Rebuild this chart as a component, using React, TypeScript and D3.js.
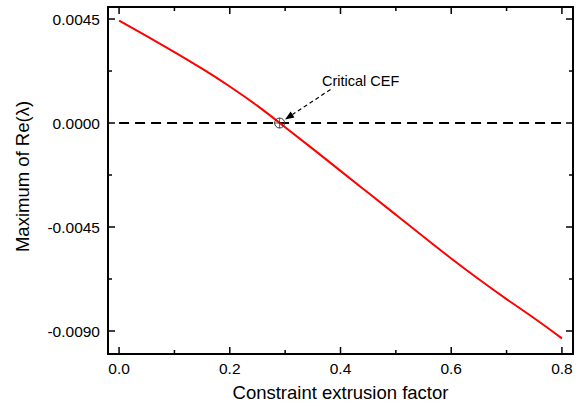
import React from "react";
import * as d3 from "d3";

const xValues = [0, 0.05, 0.1, 0.15, 0.2, 0.25, 0.3, 0.35, 0.4, 0.45, 0.5, 0.55, 0.6, 0.65, 0.7, 0.75, 0.8];
const yValues = [0.00443, 0.00376, 0.00307, 0.00235, 0.00158, 0.00074, -0.00018, -0.00112, -0.00207, -0.00302, -0.00397, -0.00492, -0.00586, -0.00676, -0.00762, -0.00845, -0.00932];
const xTicks = [0, 0.2, 0.4, 0.6, 0.8];
const xMinor = [0.1, 0.3, 0.5, 0.7];
const yTicks = [0.0045, 0, -0.0045, -0.009];
const yMinor = [0.00225, -0.00225, -0.00675];
const criticalX = 0.29;
const xLabel = "Constraint extrusion factor";
const yLabel = "Maximum of Re(λ)";
const annotation = "Critical CEF";

const W = 586, H = 406;
const L = 108, R = 573, T = 7, B = 354;
const FONT = "'Liberation Sans', Arial, Helvetica, sans-serif";

export default function App() {
  const x = d3.scaleLinear().domain([-0.02, 0.82]).range([L, R]);
  const y = d3.scaleLinear().domain([0.00502, -0.009995]).range([T, B]);
  const line = d3.line<number>().x((_, i) => x(xValues[i])).y((d) => y(d)).curve(d3.curveNatural);
  const cx = x(criticalX), cy = y(0);
  const ax0 = 330.5, ay0 = 89.5;
  const ang = Math.atan2(cy - ay0, cx - ax0);
  const tipX = cx - Math.cos(ang) * 6.5, tipY = cy - Math.sin(ang) * 6.5;
  const hl = 9, hw = 3.5;
  const bx = tipX - Math.cos(ang) * hl, by = tipY - Math.sin(ang) * hl;
  const px = -Math.sin(ang), py = Math.cos(ang);
  return (
    <svg width={W} height={H} style={{ position: "absolute", left: 0, top: 0, background: "#fff" }} fontFamily={FONT}>
      <rect width={W} height={H} fill="#fff" />
      <line x1={x(0)} x2={x(0.8)} y1={cy} y2={cy} stroke="#000" strokeWidth={2} strokeDasharray="10,6" />
      <path d={line(yValues) || ""} fill="none" stroke="#ff0000" strokeWidth={2} />
      <circle cx={cx} cy={cy} r={5} fill="none" stroke="#333" strokeWidth={1} />
      <line x1={cx - 5} x2={cx + 5} y1={cy} y2={cy} stroke="#333" strokeWidth={0.8} />
      <line x1={cx} x2={cx} y1={cy - 5} y2={cy + 5} stroke="#333" strokeWidth={0.8} />
      <line x1={ax0} y1={ay0} x2={bx} y2={by} stroke="#000" strokeWidth={1.2} strokeDasharray="4,3" />
      <polygon points={`${tipX},${tipY} ${bx + px * hw},${by + py * hw} ${bx - px * hw},${by - py * hw}`} fill="#000" />
      <text x={322} y={86} fontSize={14.5} fill="#000">{annotation}</text>
      <rect x={L} y={T} width={R - L} height={B - T} fill="none" stroke="#000" strokeWidth={2} />
      {xTicks.map((t) => (
        <g key={"xt" + t}>
          <line x1={x(t)} x2={x(t)} y1={B} y2={B - 7} stroke="#000" strokeWidth={1.5} />
          <line x1={x(t)} x2={x(t)} y1={T} y2={T + 7} stroke="#000" strokeWidth={1.5} />
          <text x={x(t)} y={374} textAnchor="middle" fontSize={15.5}>{t.toFixed(1)}</text>
        </g>
      ))}
      {xMinor.map((t) => (
        <g key={"xm" + t}>
          <line x1={x(t)} x2={x(t)} y1={B} y2={B - 4} stroke="#000" strokeWidth={1.5} />
          <line x1={x(t)} x2={x(t)} y1={T} y2={T + 4} stroke="#000" strokeWidth={1.5} />
        </g>
      ))}
      {yTicks.map((t) => (
        <g key={"yt" + t}>
          <line x1={L} x2={L + 7} y1={y(t)} y2={y(t)} stroke="#000" strokeWidth={1.5} />
          <line x1={R} x2={R - 7} y1={y(t)} y2={y(t)} stroke="#000" strokeWidth={1.5} />
          <text x={100} y={y(t) + 5.5} textAnchor="end" fontSize={15.5}>{t === 0 ? "0.0000" : t.toFixed(4)}</text>
        </g>
      ))}
      {yMinor.map((t) => (
        <g key={"ym" + t}>
          <line x1={L} x2={L + 4} y1={y(t)} y2={y(t)} stroke="#000" strokeWidth={1.5} />
          <line x1={R} x2={R - 4} y1={y(t)} y2={y(t)} stroke="#000" strokeWidth={1.5} />
        </g>
      ))}
      <text x={(L + R) / 2} y={399} textAnchor="middle" fontSize={18.5}>{xLabel}</text>
      <text transform={`translate(28.5,${176.5}) rotate(-90)`} textAnchor="middle" fontSize={18.5}>{yLabel}</text>
    </svg>
  );
}
